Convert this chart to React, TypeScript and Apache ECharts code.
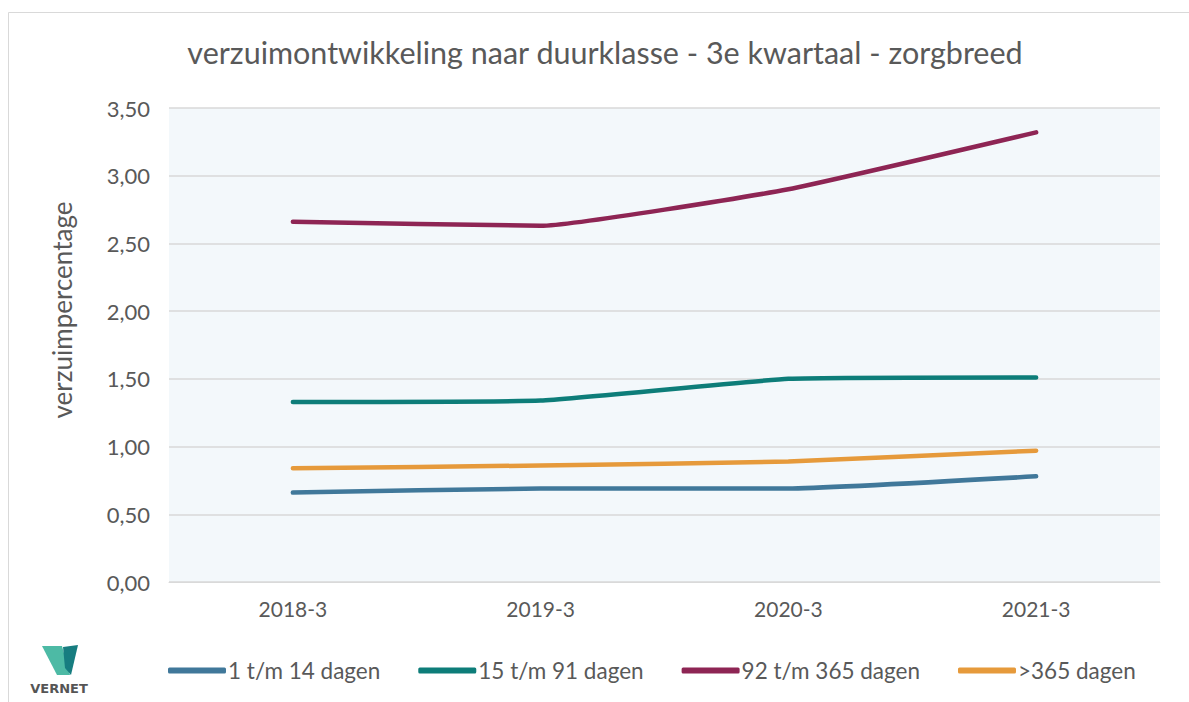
import React, { useEffect, useRef } from "react";
import * as echarts from "echarts";

const categories = ["2018-3", "2019-3", "2020-3", "2021-3"];
const seriesNames = ["1 t/m 14 dagen", "15 t/m 91 dagen", "92 t/m 365 dagen", ">365 dagen"];
const kort = [0.66, 0.69, 0.69, 0.78];
const middel = [1.33, 1.34, 1.5, 1.51];
const lang = [2.66, 2.63, 2.9, 3.32];
const langdurig = [0.84, 0.86, 0.89, 0.97];
const colors = ["#40789a", "#0d7d79", "#8e2554", "#e69a3b"];
const titleText = "verzuimontwikkeling naar duurklasse - 3e kwartaal - zorgbreed";
const yAxisName = "verzuimpercentage";

const FONT = "Lato, 'Open Sans', sans-serif";

export default function App() {
  const ref = useRef<HTMLDivElement>(null);
  useEffect(() => {
    if (!ref.current) return;
    const chart = echarts.init(ref.current, undefined, { renderer: "svg" });
    const data = [kort, middel, lang, langdurig];
    chart.setOption({
      animation: false,
      backgroundColor: "#ffffff",
      title: {
        text: titleText,
        left: 600,
        top: 31,
        textAlign: "center",
        textStyle: { fontFamily: FONT, fontSize: 30.5, fontWeight: "normal", color: "#595959" },
      },
      grid: {
        left: 169,
        right: 29,
        top: 108,
        bottom: 120,
        show: true,
        backgroundColor: "#f3f8fb",
        borderWidth: 0,
      },
      xAxis: {
        type: "category",
        data: categories,
        boundaryGap: true,
        axisLine: { lineStyle: { color: "#d9d9d9", width: 1 } },
        axisTick: { show: false },
        axisLabel: { fontFamily: FONT, fontSize: 21, color: "#595959", margin: 16 },
      },
      yAxis: {
        type: "value",
        min: 0,
        max: 3.5,
        interval: 0.5,
        axisLine: { show: false },
        axisTick: { show: false },
        splitLine: { lineStyle: { color: "#d9d9d9", width: 1.5 } },
        axisLabel: {
          fontFamily: FONT,
          fontSize: 22,
          color: "#595959",
          margin: 19,
          formatter: (v: number) => v.toFixed(2).replace(".", ","),
        },
      },
      legend: {
        left: 163,
        top: 654,
        itemWidth: 58,
        itemHeight: 6,
        itemGap: 38,
        icon: "roundRect",
        textStyle: { fontFamily: FONT, fontSize: 22.5, color: "#595959", padding: [0, 0, 0, -3] },
        data: seriesNames,
      },
      series: seriesNames.map((name, i) => ({
        name,
        type: "line",
        data: data[i],
        smooth: 0.12,
        symbol: "none",
        color: colors[i],
        lineStyle: { width: 4.5, color: colors[i], cap: "round", join: "round" },
      })),
      graphic: [
        {
          type: "rect",
          shape: { x: 8.5, y: 12.5, width: 1200, height: 700 },
          style: { fill: "none", stroke: "#d9d9d9", lineWidth: 1 },
          silent: true,
        },
        {
          type: "text",
          x: 62,
          y: 310,
          rotation: Math.PI / 2,
          style: {
            text: yAxisName,
            fontFamily: FONT,
            fontSize: 26,
            fill: "#595959",
            align: "center",
            verticalAlign: "middle",
          },
        },
        {
          type: "polygon",
          shape: { points: [[42, 646], [62, 646], [70, 675], [57, 675]] },
          style: { fill: "#4dbaa5" },
        },
        {
          type: "polygon",
          shape: { points: [[63, 647], [78, 645], [71, 675], [65, 668]] },
          style: { fill: "#177d80" },
        },
        {
          type: "text",
          x: 59,
          y: 682,
          style: {
            text: "VERNET",
            fontFamily: "'DejaVu Sans', sans-serif",
            fontWeight: "bold",
            fontSize: 13,
            fill: "#555555",
            align: "center",
            verticalAlign: "top",
          },
        },
      ],
    });
    return () => chart.dispose();
  }, []);
  return (
    <div
      ref={ref}
      style={{ position: "fixed", left: 0, top: 0, width: 1189, height: 702 }}
    />
  );
}
